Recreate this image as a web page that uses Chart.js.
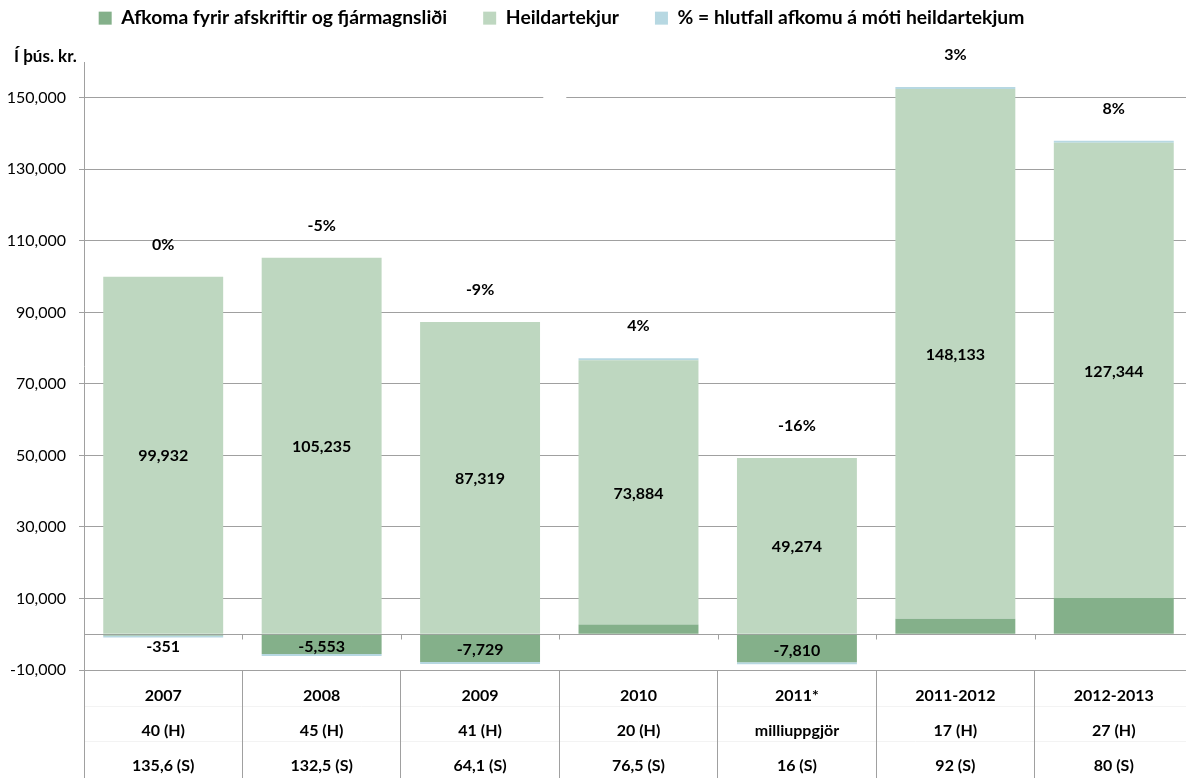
<!DOCTYPE html>
<html>
<head>
<meta charset="utf-8">
<script src="https://cdn.jsdelivr.net/npm/chart.js@4.4.1/dist/chart.umd.min.js"></script>
<style>
html,body{margin:0;padding:0;overflow:hidden;background:#fff}
canvas{display:block}
</style>
</head>
<body>
<canvas id="c" width="1193" height="778"></canvas>
<script>
// ---- data ----
const categories = [
  ["2007", "40 (H)", "135,6 (S)"],
  ["2008", "45 (H)", "132,5 (S)"],
  ["2009", "41 (H)", "64,1 (S)"],
  ["2010", "20 (H)", "76,5 (S)"],
  ["2011*", "milliuppgjör", "16 (S)"],
  ["2011-2012", "17 (H)", "92 (S)"],
  ["2012-2013", "27 (H)", "80 (S)"]
];
const afkoma = [-351, -5553, -7729, 2700, -7810, 4300, 10100];
const heildartekjur = [99932, 105235, 87319, 73884, 49274, 148133, 127344];
const hlutfall = [-0.4, -5, -9, 4, -16, 3, 8];
const yTickValues = [-10000, 10000, 30000, 50000, 70000, 90000, 110000, 130000, 150000];
const seriesNames = ["Afkoma fyrir afskriftir og fjármagnsliði", "Heildartekjur", "% = hlutfall afkomu á móti heildartekjum"];
const yUnit = "Í þús. kr.";

// ---- style ----
const FONT = 'Lato, "Open Sans", sans-serif';
const GRID = '#a0a0a0';
const COLORS = ['#84B08A', '#BED7C0', '#B7D8E2'];

const deco = {
  id: 'deco',
  beforeInit(chart) {
    const lg = chart.legend;
    const fit = lg.fit;
    lg.fit = function () { fit.call(this); this.height = 62; };
  },
  afterLayout(chart) {
    const lg = chart.legend;
    lg.left -= 35; lg.right -= 35;
    lg.top = 18 - 36 - 9.5;
  },
  beforeDraw(chart) {
    const {ctx, chartArea, scales: {x}} = chart;
    ctx.save();
    ctx.strokeStyle = '#f3f3f3';
    ctx.lineWidth = 1;
    [1, 2].forEach(k => {
      const py = Math.round(chartArea.bottom + k * 35.5) + 0.5;
      ctx.beginPath(); ctx.moveTo(x.left, py); ctx.lineTo(x.right, py); ctx.stroke();
    });
    ctx.restore();
  },
  beforeDatasetsDraw(chart) {
    // small break in the top gridline, as in the original
    const {ctx, scales: {x, y}} = chart;
    const w = (x.right - x.left) / categories.length;
    const xb = x.left + 3 * w;
    const yy = y.getPixelForValue(150000);
    ctx.save();
    ctx.fillStyle = '#fff';
    ctx.fillRect(xb - 16, yy - 2, 23, 4);
    ctx.restore();
  },
  afterDatasetsDraw(chart) {
    const ctx = chart.ctx;
    const ys = chart.scales.y;
    const zeroY = ys.getPixelForValue(0);
    const m0 = chart.getDatasetMeta(0), m1 = chart.getDatasetMeta(1), m2 = chart.getDatasetMeta(2);
    ctx.save();
    const xs = chart.scales.x;
    const n = categories.length, w = (xs.right - xs.left) / n;
    ctx.strokeStyle = GRID; ctx.lineWidth = 1;
    const zy = Math.round(zeroY) + 0.5;
    for (let i = 1; i < n; i++) {
      const px = Math.round(xs.left + i * w) + 0.5;
      ctx.beginPath(); ctx.moveTo(px, zy); ctx.lineTo(px, zy + 5); ctx.stroke();
    }
    ctx.font = 'bold 16px ' + FONT;
    ctx.fillStyle = '#000';
    ctx.textAlign = 'center';
    ctx.textBaseline = 'middle';
    m1.data.forEach((bar, i) => {
      ctx.fillText(heildartekjur[i].toLocaleString('en-US'), bar.x, (bar.y + bar.base) / 2 + 1);
      if (afkoma[i] < 0) {
        const b = m0.data[i];
        ctx.fillText(afkoma[i].toLocaleString('en-US'), b.x, Math.max((b.y + b.base) / 2 + 2, zeroY + 13));
      }
      const top = Math.min(bar.y, bar.base, m2.data[i].y, m2.data[i].base, m0.data[i].y, m0.data[i].base);
      ctx.fillText(String(Math.round(hlutfall[i])) + '%', bar.x, top - 32);
    });
    ctx.restore();
  },
  afterDraw(chart) {
    const ctx = chart.ctx;
    ctx.save();
    ctx.fillStyle = '#000';
    ctx.font = 'bold 17px ' + FONT;
    ctx.textAlign = 'left';
    ctx.textBaseline = 'middle';
    ctx.fillText(yUnit, 14, 57);
    ctx.restore();
  }
};

new Chart(document.getElementById('c'), {
  type: 'bar',
  data: {
    labels: categories,
    datasets: [
      {label: seriesNames[0], data: afkoma, backgroundColor: COLORS[0]},
      {label: seriesNames[1], data: heildartekjur, backgroundColor: COLORS[1]},
      {label: seriesNames[2], data: hlutfall, backgroundColor: COLORS[2], minBarLength: 2}
    ]
  },
  options: {
    responsive: false,
    animation: false,
    devicePixelRatio: 1,
    barPercentage: 0.757,
    categoryPercentage: 1,
    layout: {padding: 0},
    plugins: {
      legend: {
        position: 'top',
        labels: {
          boxWidth: 13, boxHeight: 13, padding: 36,
          color: '#000',
          font: {family: FONT, size: 19.3, weight: 'bold'}
        }
      },
      tooltip: {enabled: false}
    },
    scales: {
      x: {
        stacked: true,
        grid: {display: true, drawOnChartArea: false, drawTicks: true, tickLength: 108, color: GRID, offset: true},
        border: {display: true, color: GRID},
        ticks: {
          color: '#000', padding: -100, maxRotation: 0, autoSkip: false,
          font: {family: FONT, size: 16, weight: 'bold', lineHeight: 2.2}
        },
        afterFit(s) { s.height = 108; }
      },
      y: {
        stacked: true,
        min: -10000, max: 160000,
        afterBuildTicks(s) { s.ticks = [...yTickValues, 0].sort((a, b) => a - b).map(v => ({value: v})); },
        afterFit(s) { s.width = 84; },
        grid: {color: GRID, tickLength: 5, tickColor: c => (c.tick && c.tick.value === 0) ? 'rgba(0,0,0,0)' : GRID},
        border: {display: true, color: GRID},
        ticks: {
          color: '#000', padding: 13,
          font: {family: FONT, size: 16},
          callback: v => v === 0 ? '' : Number(v).toLocaleString('en-US')
        }
      }
    }
  },
  plugins: [deco]
});
</script>
</body>
</html>
